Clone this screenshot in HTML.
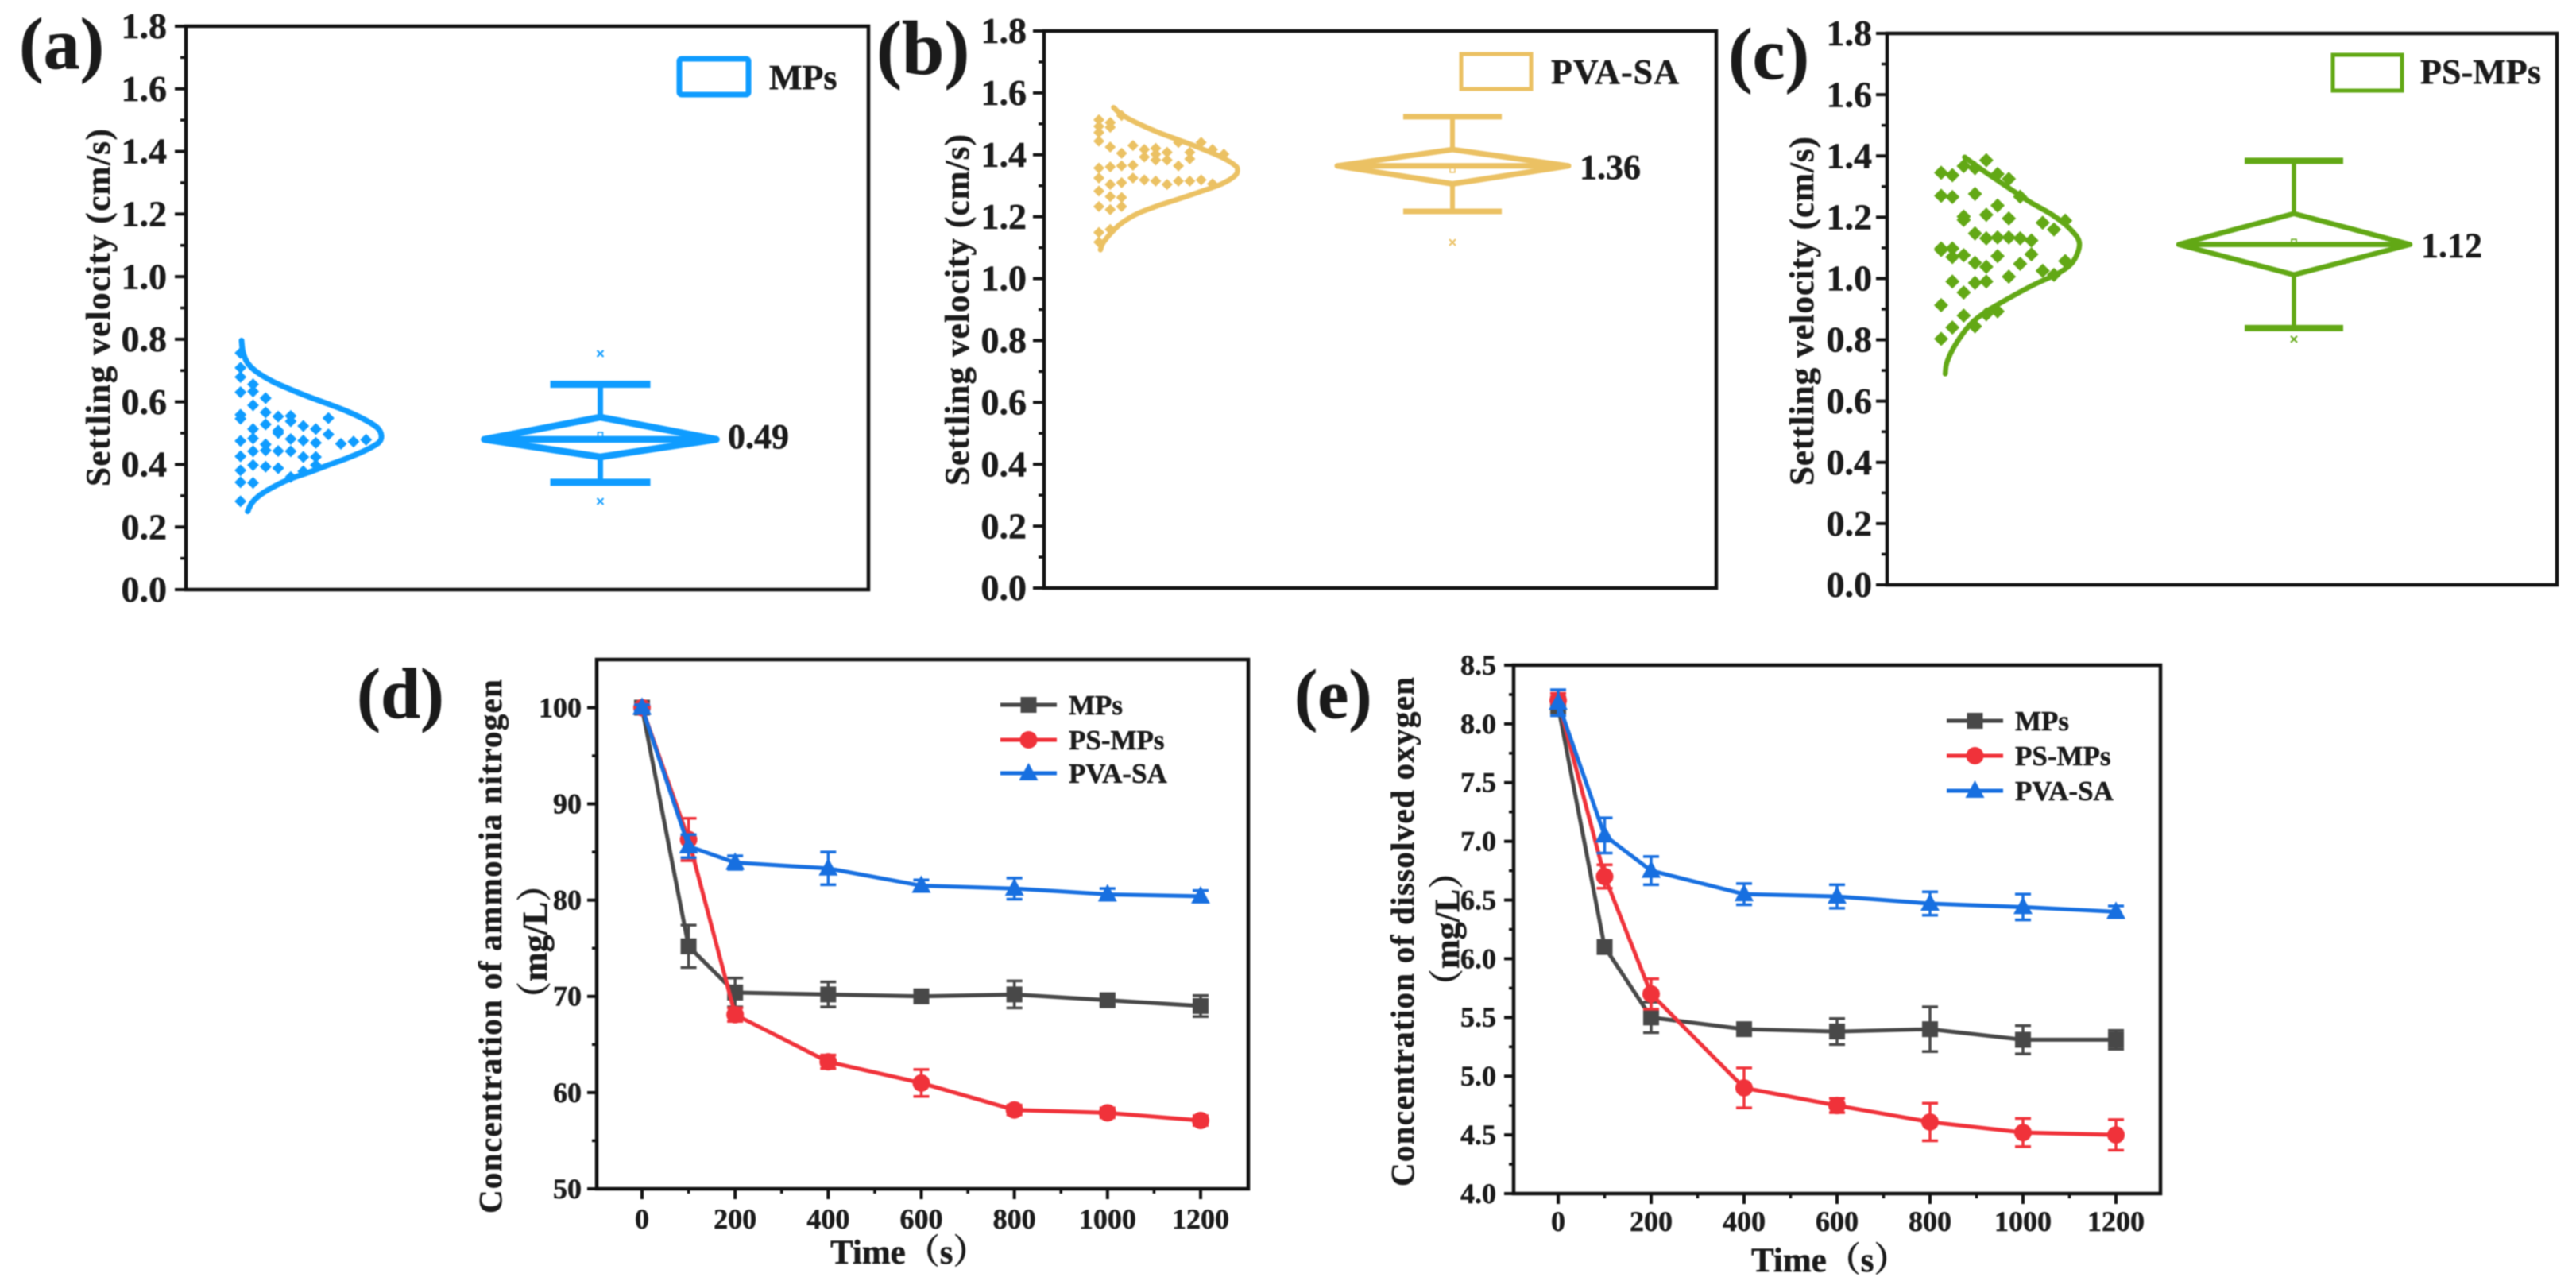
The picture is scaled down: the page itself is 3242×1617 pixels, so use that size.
<!DOCTYPE html>
<html lang="en">
<head>
<meta charset="utf-8">
<title>Settling velocity and water quality charts</title>
<style>
html,body{margin:0;padding:0;background:#fff;width:3242px;height:1617px;overflow:hidden}
svg{display:block;filter:blur(0.8px)}
text{font-family:"Liberation Serif","Times New Roman",serif;font-weight:bold;fill:#1a1a1a;stroke:#1a1a1a;stroke-width:0.5px}
text.cjk{font-family:"Liberation Serif","Noto Serif CJK SC",serif}
</style>
</head>
<body>
<svg id="figure" xmlns="http://www.w3.org/2000/svg" width="3242" height="1617" viewBox="0 0 3242 1617">
<rect width="3242" height="1617" fill="#fff"/>

<text x="24" y="86" font-size="92">(a)</text>
<text x="1103" y="93" font-size="96">(b)</text>
<text x="2175" y="99" font-size="92">(c)</text>
<text x="449" y="903" font-size="90">(d)</text>
<text x="1629" y="903" font-size="88">(e)</text>

<text transform="translate(138,612) rotate(-90)" font-size="43" textLength="450" lengthAdjust="spacing">Settling velocity (cm/s)</text>
<text transform="translate(1219,611) rotate(-90)" font-size="43" textLength="442" lengthAdjust="spacing">Settling velocity (cm/s)</text>
<text transform="translate(2282,611) rotate(-90)" font-size="43" textLength="439" lengthAdjust="spacing">Settling velocity (cm/s)</text>

<text transform="translate(631,1527) rotate(-90)" font-size="41" textLength="672" lengthAdjust="spacing">Concentration of ammonia nitrogen</text>
<text class="cjk" transform="translate(688,1279) rotate(-90)" font-size="44">（mg/L）</text>
<text transform="translate(1779,1493) rotate(-90)" font-size="41" textLength="641" lengthAdjust="spacing">Concentration of dissolved oxygen</text>
<text class="cjk" transform="translate(1836,1263) rotate(-90)" font-size="44">（mg/L）</text>

<text class="cjk" x="1045" y="1590" font-size="43">Time（s）</text>
<text class="cjk" x="2204" y="1600" font-size="43">Time（s）</text>

<rect x="855" y="74" width="87" height="45" rx="3" fill="none" stroke="#0f9cff" stroke-width="7"/>
<text x="968" y="112" font-size="44">MPs</text>
<rect x="1839" y="68" width="88" height="44" fill="none" stroke="#ebc163" stroke-width="5"/>
<text x="1952" y="105" font-size="44" textLength="161" lengthAdjust="spacing">PVA-SA</text>
<rect x="2936" y="69" width="87" height="45" fill="none" stroke="#62a815" stroke-width="5"/>
<text x="3046" y="105" font-size="44" textLength="152" lengthAdjust="spacing">PS-MPs</text>
</svg>

<script>
// ---------- panels a-c: shared axis labels ----------
var settlingTicks = ['0.0','0.2','0.4','0.6','0.8','1.0','1.2','1.4','1.6','1.8'];

// ---------- panel a: MPs swarm values per column ----------
var swarmMPs = [
  [0.756,0.709,0.679,0.631,0.559,0.546,0.475,0.426,0.381,0.343,0.282],
  [0.656,0.633,0.589,0.513,0.483,0.442,0.398,0.341],
  [0.612,0.566,0.528,0.464,0.445,0.393],
  [0.553,0.508,0.500,0.443,0.388],
  [0.555,0.538,0.481,0.442,0.360],
  [0.523,0.476,0.424,0.378],
  [0.513,0.469,0.424,0.398],
  [0.548,0.496],
  [0.466],
  [0.473],
  [0.479]
];
var curveValuesMPs = [0.796,0.758,0.724,0.695,0.665,0.642,0.618,0.593,0.570,0.542,0.517,0.492,0.470,0.445,0.420,0.398,0.373,0.352,0.327,0.301,0.276,0.250];
var curveDensityMPs = [0,0.011,0.044,0.110,0.223,0.337,0.470,0.621,0.754,0.886,0.972,1,0.981,0.886,0.754,0.621,0.470,0.337,0.223,0.129,0.072,0.044];
var boxMPs = [0.343,0.424,0.480,0.551,0.656];
var meanMPs = [0.495];
var outliersMPs = [0.754,0.282];
var printedMPs = ['0.49'];

// ---------- panel b: PVA-SA ----------
var swarmPVA = [
  [1.513,1.492,1.472,1.444,1.357,1.325,1.283,1.233,1.149,1.118],
  [1.504,1.489,1.425,1.361,1.304,1.265,1.223,1.159],
  [1.527,1.405,1.364,1.310,1.262,1.233],
  [1.430,1.366,1.325],
  [1.417,1.393,1.319],
  [1.421,1.402,1.383,1.315],
  [1.408,1.383,1.304],
  [1.440,1.364,1.315],
  [1.408,1.387,1.315],
  [1.440,1.319],
  [1.417,1.306],
  [1.402]
];
var curveValuesPVA = [1.553,1.530,1.502,1.472,1.447,1.421,1.392,1.366,1.351,1.332,1.306,1.281,1.258,1.236,1.210,1.179,1.147,1.115,1.093];
var curveDensityPVA = [0.106,0.163,0.278,0.430,0.582,0.734,0.886,0.981,1,0.981,0.886,0.734,0.582,0.430,0.278,0.163,0.087,0.030,0.011];
var boxPVA = [1.217,1.306,1.364,1.417,1.523];
var meanPVA = [1.351];
var outliersPVA = [1.117];
var printedPVA = ['1.36'];

// ---------- panel c: PS-MPs ----------
var swarmPS = [
  [1.345,1.270,1.098,1.093,0.913,0.803],
  [1.337,1.266,1.098,1.070,0.990,0.840],
  [1.367,1.202,1.191,1.076,0.954,0.879],
  [1.360,1.276,1.147,1.051,0.986,0.844],
  [1.386,1.208,1.131,1.038,0.990,0.883],
  [1.341,1.238,1.134,1.073,0.893],
  [1.325,1.196,1.134,1.006],
  [1.267,1.131,1.048],
  [1.124,1.079],
  [1.182,1.025],
  [1.160,1.012],
  [1.189,1.057]
];
var curveValuesPS = [1.396,1.354,1.302,1.251,1.206,1.160,1.115,1.057,1.018,0.982,0.941,0.896,0.851,0.786,0.728,0.689];
var curveDensityPS = [0.170,0.298,0.468,0.638,0.809,0.936,1,0.957,0.851,0.681,0.511,0.340,0.213,0.106,0.043,0.030];
var boxPS = [0.838,1.012,1.111,1.212,1.384];
var meanPS = [1.120];
var outliersPS = [0.802];
var printedPS = ['1.12'];

// ---------- panels d, e: time series ----------
var times = [0,100,200,400,600,800,1000,1200];
var timeTicks = ['0','200','400','600','800','1000','1200'];
var seriesNames = ['MPs','PS-MPs','PVA-SA'];

var ammoniaTicks = ['50','60','70','80','90','100'];
var ammoniaMPs = [100,75.2,70.4,70.2,70.0,70.2,69.6,69.0];
var ammoniaMPsErr = [0.3,2.2,1.5,1.3,0.6,1.4,0.5,1.1];
var ammoniaPS = [100,86.3,68.1,63.2,61.0,58.2,57.9,57.1];
var ammoniaPSErr = [0.3,2.2,0.7,0.7,1.4,0.5,0.5,0.5];
var ammoniaPVA = [100,85.6,83.9,83.3,81.5,81.2,80.6,80.4];
var ammoniaPVAErr = [0.3,1.2,0.7,1.7,0.6,1.1,0.6,0.6];

var oxygenTicks = ['4.0','4.5','5.0','5.5','6.0','6.5','7.0','7.5','8.0','8.5'];
var oxygenMPs = [8.15,6.10,5.50,5.40,5.38,5.40,5.31,5.31];
var oxygenMPsErr = [0.08,0.05,0.13,0.05,0.11,0.19,0.12,0.08];
var oxygenPS = [8.20,6.70,5.70,4.90,4.75,4.61,4.52,4.50];
var oxygenPSErr = [0.06,0.10,0.13,0.17,0.06,0.16,0.12,0.13];
var oxygenPVA = [8.18,7.05,6.75,6.55,6.53,6.47,6.44,6.40];
var oxygenPVAErr = [0.11,0.15,0.12,0.09,0.10,0.10,0.11,0.05];

// ---------- helpers ----------
var NS = 'http://www.w3.org/2000/svg';
var root = document.getElementById('figure');
function make(tag, attrs, parent) {
  var n = document.createElementNS(NS, tag);
  for (var k in attrs) n.setAttribute(k, attrs[k]);
  (parent || root).appendChild(n);
  return n;
}
function linear(d0, d1, r0, r1) {
  return function (v) { return r0 + (v - d0) * (r1 - r0) / (d1 - d0); };
}
function smoothPath(pts) {
  var d = 'M' + pts[0][0].toFixed(1) + ' ' + pts[0][1].toFixed(1);
  for (var i = 0; i < pts.length - 1; i++) {
    var p0 = pts[Math.max(i - 1, 0)], p1 = pts[i], p2 = pts[i + 1], p3 = pts[Math.min(i + 2, pts.length - 1)];
    d += 'C' + (p1[0] + (p2[0] - p0[0]) / 6).toFixed(1) + ' ' + (p1[1] + (p2[1] - p0[1]) / 6).toFixed(1) + ' ' +
         (p2[0] - (p3[0] - p1[0]) / 6).toFixed(1) + ' ' + (p2[1] - (p3[1] - p1[1]) / 6).toFixed(1) + ' ' +
         p2[0].toFixed(1) + ' ' + p2[1].toFixed(1);
  }
  return d;
}
function drawFrame(cfg) {
  var g = make('g', {});
  
  
  var frame = make('rect', {x: cfg.left, y: cfg.top, width: cfg.right - cfg.left, height: cfg.bottom - cfg.top, fill: 'none', stroke: '#111', 'stroke-width': 4.5}, g);
  
  
  return g;
}
function drawYTicks(cfg, g, labels, y, size, majorLen, minorLen) {
  for (var i = 0; i < labels.length; i++) {
    var v = parseFloat(labels[i]);
    var t = make('line', {x1: cfg.left - majorLen, x2: cfg.left, y1: y(v), y2: y(v), stroke: '#111', 'stroke-width': 4}, g);
    
    
    var lab = make('text', {x: cfg.labelRight, y: y(v) + size * 0.33, 'font-size': size, 'text-anchor': 'end'}, g);
    
    
    lab.textContent = labels[i];
    if (i < labels.length - 1) {
      var m = (v + parseFloat(labels[i + 1])) / 2;
      var mt = make('line', {x1: cfg.left - minorLen, x2: cfg.left, y1: y(m), y2: y(m), stroke: '#111', 'stroke-width': 3.5}, g);
      
      
    }
  }
}

// ---------- panels a-c ----------
function drawDistribution(cfg, swarm, curveV, curveD, box, mean, outliers, printed) {
  var g = drawFrame(cfg);
  var y = linear(0, 1.8, cfg.bottom, cfg.top);
  drawYTicks(cfg, g, settlingTicks, y, 46, 14, 7);

  var marks = make('g', {fill: cfg.color}, g);
  
  
  var columnX = linear(0, 1, cfg.swarmBase, cfg.swarmBase + cfg.swarmStep);
  swarm.forEach(function (col, c) {
    col.forEach(function (v) {
      var cx = columnX(c), cy = y(v), r = cfg.dot;
      var pt = make('polygon', {points: cx + ',' + (cy - r) + ' ' + (cx + r) + ',' + cy + ' ' + cx + ',' + (cy + r) + ' ' + (cx - r) + ',' + cy}, marks);
      
      
    });
  });

  var densityX = linear(0, 1, cfg.curveBase, cfg.curveBase + cfg.curveWidth);
  var pts = curveV.map(function (v, i) { return [densityX(curveD[i]), y(v)]; });
  var curve = make('path', {d: smoothPath(pts), fill: 'none', stroke: cfg.color, 'stroke-width': cfg.curveStroke, 'stroke-linecap': 'round'}, g);
  
  

  var b = make('g', {stroke: cfg.color, fill: 'none'}, g);
  
  
  var cx = cfg.boxX;
  var stem = make('path', {d: 'M' + cx + ' ' + y(box[0]) + 'V' + y(box[1]) + 'M' + cx + ' ' + y(box[3]) + 'V' + y(box[4]), 'stroke-width': cfg.stem}, b);
  
  
  [box[0], box[4]].forEach(function (v) {
    var cap = make('line', {x1: cx - cfg.capHalf, x2: cx + cfg.capHalf, y1: y(v), y2: y(v), 'stroke-width': cfg.cap}, b);
    
    
  });
  var ym = y(box[2]);
  var diamond = make('polygon', {points: (cx - cfg.diamondLeft) + ',' + ym + ' ' + cx + ',' + y(box[3]) + ' ' + (cx + cfg.diamondRight) + ',' + ym + ' ' + cx + ',' + y(box[1]), 'stroke-width': cfg.diamond, 'stroke-linejoin': 'round'}, b);
  
  
  var midLine = make('line', {x1: cx - cfg.diamondLeft, x2: cx + cfg.diamondRight, y1: ym, y2: ym, 'stroke-width': cfg.diamond}, b);
  
  
  mean.forEach(function (v) {
    var m = make('rect', {x: cx - 3, y: y(v) - 3, width: 6, height: 6, 'stroke-width': 1.5}, b);
    
    
  });
  outliers.forEach(function (v) {
    var yy = y(v);
    var o = make('path', {d: 'M' + (cx - 4) + ' ' + (yy - 4) + 'L' + (cx + 4) + ' ' + (yy + 4) + 'M' + (cx + 4) + ' ' + (yy - 4) + 'L' + (cx - 4) + ' ' + (yy + 4), 'stroke-width': 2}, b);
    
    
  });
  var val = make('text', {x: cfg.valueX, y: y(box[2]) + cfg.valueDy, 'font-size': 44}, g);
  
  
  val.textContent = printed[0];
}

drawDistribution({id:'a',left:234,right:1093,top:33,bottom:742,labelRight:210,color:'#0f9cff',swarmBase:302.7,swarmStep:15.8,dot:7.5,curveBase:304,curveWidth:176,curveStroke:7,boxX:755.5,capHalf:63,cap:9,stem:7,diamond:8.5,diamondLeft:146,diamondRight:146,valueX:916,valueDy:11},
  swarmMPs,curveValuesMPs,curveDensityMPs,boxMPs,meanMPs,outliersMPs,printedMPs);
drawDistribution({id:'b',left:1314,right:2160,top:39,bottom:740,labelRight:1292,color:'#ebc163',swarmBase:1383,swarmStep:14.3,dot:7,curveBase:1383,curveWidth:174.4,curveStroke:6.5,boxX:1828,capHalf:62,cap:7,stem:6,diamond:7,diamondLeft:145,diamondRight:146,valueX:1988,valueDy:16},
  swarmPVA,curveValuesPVA,curveDensityPVA,boxPVA,meanPVA,outliersPVA,printedPVA);
drawDistribution({id:'c',left:2375,right:3218,top:42,bottom:736,labelRight:2356,color:'#62a815',swarmBase:2443,swarmStep:14.2,dot:9,curveBase:2443,curveWidth:174,curveStroke:6.5,boxX:2887,capHalf:62,cap:8,stem:5.5,diamond:6.5,diamondLeft:145,diamondRight:146,valueX:3047,valueDy:16},
  swarmPS,curveValuesPS,curveDensityPS,boxPS,meanPS,outliersPS,printedPS);

// ---------- panels d, e ----------
var seriesColors = ['#484848','#f0323a','#176fe0'];
function drawMarker(kind, cx, cy, color, parent) {
  if (kind === 0) {
    return make('rect', {x: cx - 10, y: cy - 10, width: 20, height: 20, fill: color}, parent);
  }
  if (kind === 1) {
    return make('circle', {cx: cx, cy: cy, r: 11, fill: color}, parent);
  }
  return make('polygon', {points: cx + ',' + (cy - 13) + ' ' + (cx + 12) + ',' + (cy + 9) + ' ' + (cx - 12) + ',' + (cy + 9), fill: color}, parent);
}
function drawTimeChart(cfg, yTicks, values, errors) {
  var g = drawFrame(cfg);
  var y = linear(cfg.yMin, cfg.yMax, cfg.yMinPx, cfg.yMaxPx);
  var x = linear(0, 1200, cfg.x0, cfg.x1200);
  drawYTicks(cfg, g, yTicks, y, 36, 12, 6);
  timeTicks.forEach(function (t, i) {
    var v = parseFloat(t);
    var tk = make('line', {x1: x(v), x2: x(v), y1: cfg.bottom, y2: cfg.bottom + 13, stroke: '#111', 'stroke-width': 4}, g);
    
    
    var lab = make('text', {x: x(v), y: cfg.xLabelY, 'font-size': 36, 'text-anchor': 'middle'}, g);
    
    
    lab.textContent = t;
    if (i < timeTicks.length - 1) {
      var mv = (v + parseFloat(timeTicks[i + 1])) / 2;
      var mt = make('line', {x1: x(mv), x2: x(mv), y1: cfg.bottom, y2: cfg.bottom + 6, stroke: '#111', 'stroke-width': 3.5}, g);
      
      
    }
  });

  values.forEach(function (series, s) {
    var color = seriesColors[s];
    var sg = make('g', {}, g);
    
    
    var pts = series.map(function (v, i) { return x(times[i]) + ',' + y(v); }).join(' ');
    var line = make('polyline', {points: pts, fill: 'none', stroke: color, 'stroke-width': 5, 'stroke-linejoin': 'round'}, sg);
    
    
    series.forEach(function (v, i) {
      var e = errors[s][i], cx = x(times[i]);
      var bar = make('path', {d: 'M' + (cx - 10) + ' ' + y(v + e) + 'H' + (cx + 10) + 'M' + (cx - 10) + ' ' + y(v - e) + 'H' + (cx + 10) + 'M' + cx + ' ' + y(v + e) + 'V' + y(v - e), fill: 'none', stroke: color, 'stroke-width': 3.5}, sg);
      
      
      var mk = drawMarker(s, cx, y(v), color, sg);
      
      
    });
  });

  seriesNames.forEach(function (name, s) {
    var ly = cfg.legendY[s];
    var l = make('line', {x1: cfg.legendX, x2: cfg.legendX + 71, y1: ly, y2: ly, stroke: seriesColors[s], 'stroke-width': 5}, g);
    
    
    var mk = drawMarker(s, cfg.legendX + 35.5, ly, seriesColors[s], g);
    
    
    var tx = make('text', {x: cfg.legendX + 86, y: ly + 12, 'font-size': 35}, g);
    
    
    tx.textContent = name;
  });
}

drawTimeChart({id:'d',left:751,right:1571,top:830,bottom:1496,labelRight:732,yMin:50,yMax:100,yMinPx:1496,yMaxPx:890.5,x0:808,x1200:1511,xLabelY:1546,legendX:1259,legendY:[887,931,973]},
  ammoniaTicks,[ammoniaMPs,ammoniaPS,ammoniaPVA],[ammoniaMPsErr,ammoniaPSErr,ammoniaPVAErr]);
drawTimeChart({id:'e',left:1905,right:2719,top:837,bottom:1502,labelRight:1883,yMin:4,yMax:8.5,yMinPx:1502,yMaxPx:837,x0:1961,x1200:2663,xLabelY:1549,legendX:2450,legendY:[907,951,995]},
  oxygenTicks,[oxygenMPs,oxygenPS,oxygenPVA],[oxygenMPsErr,oxygenPSErr,oxygenPVAErr]);
</script>
</body>
</html>
